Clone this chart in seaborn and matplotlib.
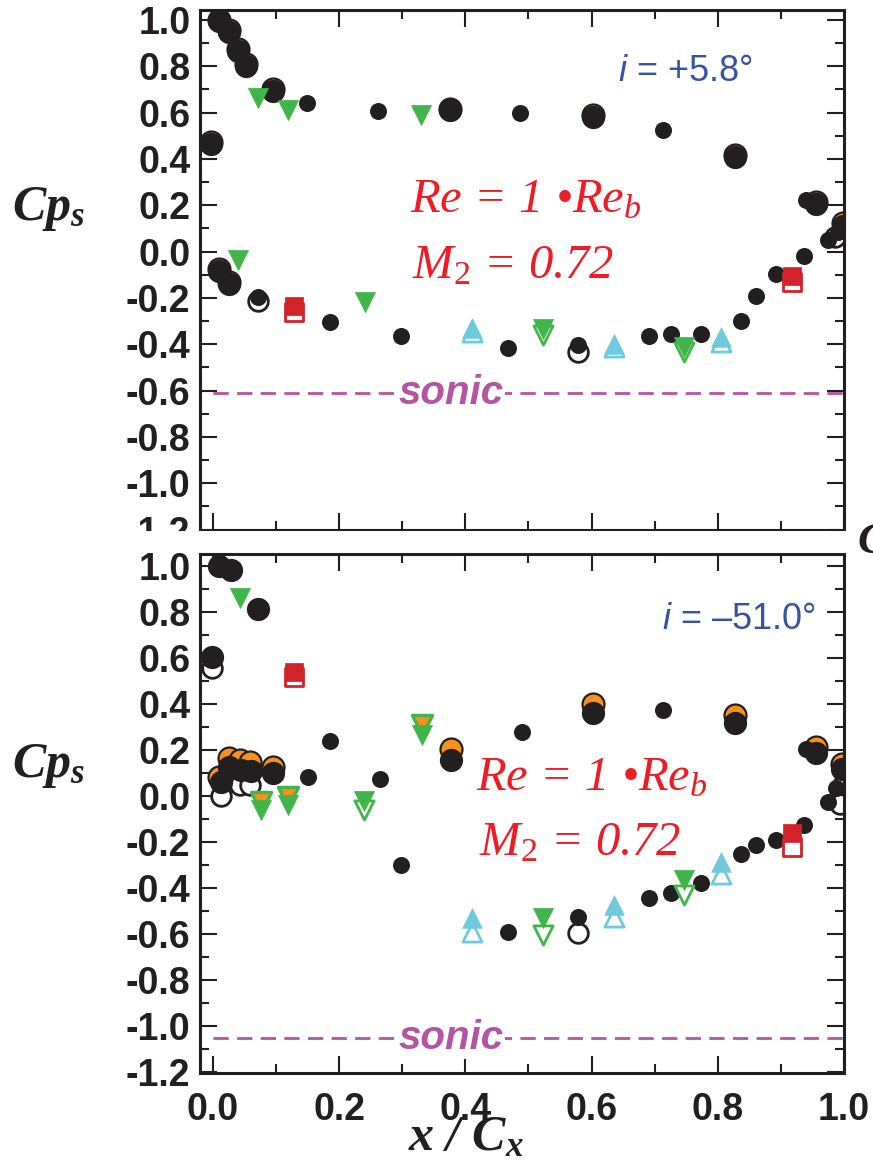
import matplotlib
matplotlib.use("Agg")
import matplotlib.pyplot as plt
import seaborn as sns
from matplotlib.patches import Rectangle
from matplotlib.ticker import MultipleLocator, FuncFormatter

# =========================================================
# DATA  (x / Cx , Cp_s)
# =========================================================

# ---- top panel, i = +5.8 deg ----
top_orange_x = [0.010, 0.025, 0.039, 0.052, 0.095, -0.003, 0.375, 0.602, 0.828, 0.955, 0.998, 0.009, 0.026]
top_orange_cp = [1.000, 0.955, 0.875, 0.810, 0.700, 0.475, 0.615, 0.588, 0.415, 0.212, 0.122, -0.075, -0.130]

top_black_x = [0.010, 0.025, 0.039, 0.052, 0.095, -0.003, 0.375, 0.602, 0.828, 0.955, 0.998, 0.009, 0.026]
top_black_cp = [0.995, 0.948, 0.868, 0.803, 0.692, 0.463, 0.610, 0.580, 0.408, 0.205, 0.112, -0.082, -0.138]

top_small_x = [0.149, 0.262, 0.487, 0.713, 0.939, 0.990, 0.975, 0.937, 0.893, 0.861, 0.836,
               0.773, 0.726, 0.691, 0.579, 0.467, 0.298, 0.185, 0.072]
top_small_cp = [0.640, 0.609, 0.600, 0.527, 0.224, 0.085, 0.050, -0.020, -0.095, -0.190, -0.299,
                -0.354, -0.357, -0.365, -0.404, -0.416, -0.365, -0.303, -0.195]

top_open_x = [0.072, 0.579, 0.985]
top_open_cp = [-0.212, -0.433, 0.065]

top_green_x = [0.072, 0.119, 0.330, 0.040, 0.241, 0.523, 0.747]
top_green_cp = [0.662, 0.612, 0.590, -0.036, -0.217, -0.336, -0.410]
top_green_open_x = [0.523, 0.747]
top_green_open_cp = [-0.360, -0.433]

top_cyan_x = [0.411, 0.635, 0.805]
top_cyan_cp = [-0.332, -0.400, -0.370]
top_cyan_open_cp = [-0.347, -0.414, -0.390]

top_red_x = [0.128, 0.917]
top_red_cp = [-0.235, -0.105]
top_red_open_cp = [-0.260, -0.130]

top_sonic = -0.611

# ---- bottom panel, i = -51.0 deg ----
bot_orange_x = [0.026, 0.042, 0.058, 0.010, 0.095, 0.377, 0.602, 0.828, 0.956, 0.997]
bot_orange_cp = [0.164, 0.157, 0.149, 0.081, 0.128, 0.203, 0.399, 0.350, 0.214, 0.137]

bot_open_x = [-0.002, 0.013, 0.042, 0.058, 0.998, 0.993, 0.579]
bot_open_cp = [0.555, 0.000, 0.048, 0.048, 0.050, -0.036, -0.597]

bot_black_x = [0.010, 0.029, 0.072, -0.002, 0.026, 0.044, 0.060, 0.013, 0.095, 0.377, 0.602, 0.828, 0.956, 0.997]
bot_black_cp = [0.998, 0.983, 0.812, 0.606, 0.128, 0.113, 0.110, 0.062, 0.099, 0.157, 0.362, 0.316, 0.185, 0.116]

bot_small_x = [0.150, 0.185, 0.264, 0.489, 0.713, 0.940, 0.988, 0.974, 0.937, 0.893, 0.861,
               0.836, 0.773, 0.726, 0.691, 0.579, 0.467, 0.298]
bot_small_cp = [0.084, 0.241, 0.075, 0.277, 0.375, 0.203, 0.036, -0.026, -0.128, -0.190, -0.214,
                -0.252, -0.380, -0.421, -0.445, -0.525, -0.592, -0.301]

bot_green_x = [0.042, 0.076, 0.119, 0.240, 0.332, 0.523, 0.747]
bot_green_cp = [0.860, -0.060, -0.040, -0.020, 0.265, -0.532, -0.366]
bot_green_orange_x = [0.076, 0.119, 0.332]
bot_green_orange_cp = [-0.025, -0.003, 0.309]
bot_green_open_x = [0.240, 0.523, 0.747]
bot_green_open_cp = [-0.060, -0.604, -0.431]

bot_cyan_x = [0.411, 0.635, 0.805]
bot_cyan_cp = [-0.532, -0.474, -0.287]
bot_cyan_open_cp = [-0.589, -0.524, -0.337]

bot_red_x = [0.129, 0.917]
bot_red_cp = [0.541, -0.160]
bot_red_open_cp = [0.519, -0.220]

bot_sonic = -1.053

# =========================================================
# STYLE
# =========================================================

sns.set_style("ticks")
plt.rcParams["font.family"] = ["Liberation Sans", "DejaVu Sans"]
plt.rcParams["mathtext.fontset"] = "custom"
plt.rcParams["mathtext.rm"] = "Liberation Serif"
plt.rcParams["mathtext.it"] = "Liberation Serif:italic"
plt.rcParams["mathtext.bf"] = "Liberation Serif:bold"
plt.rcParams["mathtext.bfit"] = "Liberation Serif:italic:bold"
plt.rcParams["mathtext.sf"] = "Liberation Sans:italic"
plt.rcParams["axes.unicode_minus"] = False

BLACK = "#231f20"
ORANGE = "#f7901e"
GREEN = "#40b54a"
CYAN = "#6fcadf"
RED = "#d2232a"
TEXT_RED = "#ee1c25"
BLUE = "#3853a4"
MAGENTA = "#b455a3"


def dots(ax, xs, ys, **kw):
    sns.scatterplot(x=xs, y=ys, ax=ax, legend=False, **kw)


def style_axes(ax, ylim, show_xlabels):
    ax.set_xlim(-0.0206, 1.0)
    ax.set_ylim(*ylim)
    ax.xaxis.set_major_locator(MultipleLocator(0.2))
    ax.xaxis.set_minor_locator(MultipleLocator(0.1))
    ax.yaxis.set_major_locator(MultipleLocator(0.2))
    ax.yaxis.set_minor_locator(MultipleLocator(0.1))
    fmt = FuncFormatter(lambda v, p: "0.0" if abs(v) < 1e-9 else f"{v:.1f}")
    ax.xaxis.set_major_formatter(fmt)
    ax.yaxis.set_major_formatter(fmt)
    ax.tick_params(which="both", direction="in", top=True, right=True,
                   color=BLACK, width=1.5)
    ax.tick_params(which="major", length=12)
    ax.tick_params(which="minor", length=6.5)
    ax.tick_params(axis="y", labelsize=27, pad=7, labelcolor=BLACK)
    ax.tick_params(axis="x", labelsize=27, pad=14, labelcolor=BLACK,
                   labelbottom=show_xlabels)
    for lab in ax.get_xticklabels() + ax.get_yticklabels():
        lab.set_fontweight("bold")
    for sp in ax.spines.values():
        sp.set_linewidth(2.2)
        sp.set_color(BLACK)
    ax.set_xlabel("")
    ax.set_ylabel("")


def draw_panel(ax, d):
    # orange-filled circles sit under the black ones
    dots(ax, d["orange_x"], d["orange_cp"], marker="o", s=250, color=ORANGE,
         edgecolor=BLACK, linewidth=1.6)
    dots(ax, d["open_x"], d["open_cp"], marker="o", s=200, color="white",
         edgecolor=BLACK, linewidth=2.0)
    dots(ax, d["black_x"], d["black_cp"], marker="o", s=280, color=BLACK,
         edgecolor=BLACK, linewidth=0)
    dots(ax, d["small_x"], d["small_cp"], marker="o", s=150, color=BLACK,
         edgecolor=BLACK, linewidth=0)
    if d.get("green_orange_x"):
        dots(ax, d["green_orange_x"], d["green_orange_cp"], marker="v", s=210,
             color=ORANGE, edgecolor=GREEN, linewidth=2.4)
    dots(ax, d["green_open_x"], d["green_open_cp"], marker="v", s=190,
         color="white", edgecolor=GREEN, linewidth=2.0)
    dots(ax, d["green_x"], d["green_cp"], marker="v", s=210, color=GREEN,
         edgecolor=GREEN, linewidth=0.5)
    dots(ax, d["cyan_x"], d["cyan_open_cp"], marker="^", s=190, color="white",
         edgecolor=CYAN, linewidth=2.0)
    dots(ax, d["cyan_x"], d["cyan_cp"], marker="^", s=200, color=CYAN,
         edgecolor=CYAN, linewidth=0.5)
    dots(ax, d["red_x"], d["red_open_cp"], marker="s", s=150, color="white",
         edgecolor=RED, linewidth=2.0)
    dots(ax, d["red_x"], d["red_cp"], marker="s", s=160, color=RED,
         edgecolor=RED, linewidth=0.5)

    ax.hlines(d["sonic"], 0.0, 1.0, colors=MAGENTA, linestyles=(0, (5.5, 3)),
              linewidth=2.0, zorder=0.5)
    ax.text(0.377, d["sonic"] - 0.045, "sonic", ha="center", va="baseline",
            fontsize=29, fontweight="bold", fontstyle="italic", color=MAGENTA,
            bbox=dict(facecolor="white", edgecolor="none", pad=1.5), zorder=0.8)


top = dict(orange_x=top_orange_x, orange_cp=top_orange_cp,
           open_x=top_open_x, open_cp=top_open_cp,
           black_x=top_black_x, black_cp=top_black_cp,
           small_x=top_small_x, small_cp=top_small_cp,
           green_x=top_green_x, green_cp=top_green_cp,
           green_open_x=top_green_open_x, green_open_cp=top_green_open_cp,
           cyan_x=top_cyan_x, cyan_cp=top_cyan_cp, cyan_open_cp=top_cyan_open_cp,
           red_x=top_red_x, red_cp=top_red_cp, red_open_cp=top_red_open_cp,
           sonic=top_sonic)

bot = dict(orange_x=bot_orange_x, orange_cp=bot_orange_cp,
           open_x=bot_open_x, open_cp=bot_open_cp,
           black_x=bot_black_x, black_cp=bot_black_cp,
           small_x=bot_small_x, small_cp=bot_small_cp,
           green_x=bot_green_x, green_cp=bot_green_cp,
           green_orange_x=bot_green_orange_x, green_orange_cp=bot_green_orange_cp,
           green_open_x=bot_green_open_x, green_open_cp=bot_green_open_cp,
           cyan_x=bot_cyan_x, cyan_cp=bot_cyan_cp, cyan_open_cp=bot_cyan_open_cp,
           red_x=bot_red_x, red_cp=bot_red_cp, red_open_cp=bot_red_open_cp,
           sonic=bot_sonic)

# =========================================================
# FIGURE
# =========================================================

W, H = 873, 1165
fig = plt.figure(figsize=(W / 100, H / 100), dpi=100)

ax_top = fig.add_axes([200 / W, 1 - 529.5 / H, 644 / W, 519.5 / H])
ax_bot = fig.add_axes([200 / W, 1 - 1073 / H, 644 / W, 519 / H])

draw_panel(ax_top, top)
draw_panel(ax_bot, bot)

style_axes(ax_top, (-1.2, 1.043), False)
style_axes(ax_bot, (-1.204, 1.052), True)

# annotations
ax_top.text(0.642, 0.737, r"$\mathsf{i}$ = +5.8°", fontsize=26, color=BLUE,
            ha="left", va="baseline")
ax_bot.text(0.711, 0.725, r"$\mathsf{i}$ = –51.0°", fontsize=26, color=BLUE,
            ha="left", va="baseline")

for ax, x0, y_re, y_m in [(ax_top, 0.312, 0.167, -0.118),
                          (ax_bot, 0.417, 0.026, -0.256)]:
    ax.text(x0, y_re, r"Re = 1 •$Re_{b}$", fontsize=35, color=TEXT_RED,
            family="Liberation Serif", fontstyle="italic", va="baseline")
    ax.text(x0 + 0.004, y_m, r"$M_{\mathit{2}}$ = 0.72", fontsize=35, color=TEXT_RED,
            family="Liberation Serif", fontstyle="italic", va="baseline")

# y labels
fig.text(12 / W, 1 - 220 / H, r"$\mathbfit{Cp}_{\mathbfit{s}}$", fontsize=36,
         color=BLACK, ha="left", va="baseline")
fig.text(12 / W, 1 - 777 / H, r"$\mathbfit{Cp}_{\mathbfit{s}}$", fontsize=36,
         color=BLACK, ha="left", va="baseline")

# x label
fig.text(408 / W, 1 - 1150 / H, r"$\mathbfit{x\ /\ C}_{\mathbfit{x}}$", fontsize=36,
         color=BLACK, ha="left", va="baseline")

# white strip where the lower panel was pasted over the upper one
fig.add_artist(Rectangle((0, 1 - 552 / H), 1, 21 / H, transform=fig.transFigure,
                         facecolor="white", edgecolor="none", zorder=3))

# clipped label from the neighbouring figure
fig.text(857 / W, 1 - 553 / H, "C", fontsize=32, family="Liberation Serif",
         fontstyle="italic", fontweight="bold", color=BLACK, va="baseline", zorder=4)

fig.savefig("out.png", dpi=100, facecolor="white")
